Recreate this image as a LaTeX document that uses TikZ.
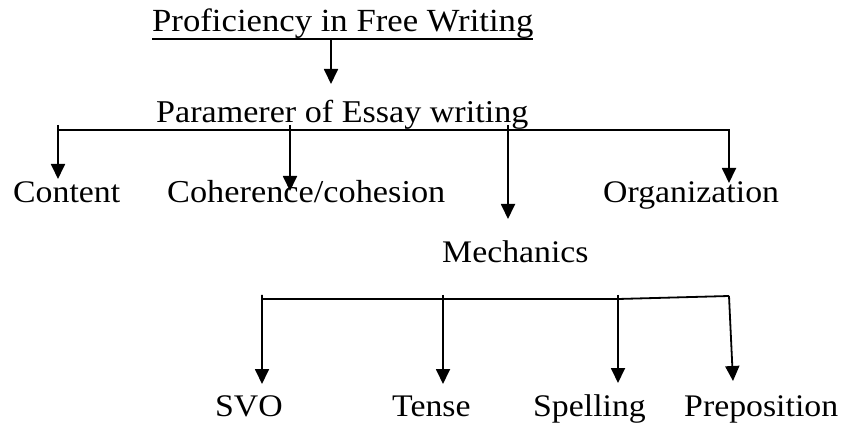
\documentclass[tikz,border=0pt]{standalone}
\usepackage{fontspec}
\setmainfont{Liberation Serif}
\usetikzlibrary{arrows.meta}
\newcommand{\vsq}[1]{\scalebox{1}[0.93]{#1}}
\begin{document}
\begin{tikzpicture}[x=1pt,y=-1pt,
  lbl/.style={anchor=base west,inner sep=0pt,font=\fontsize{33.8}{36}\selectfont},
  conn/.style={line width=1.8pt},
  arr/.style={conn,-{Triangle[length=15pt,width=14pt]}}]
\useasboundingbox (0,0) rectangle (846,430);
% texts
\node[lbl,font=\fontsize{34.7}{36}\selectfont] (title) at (152,32) {\vsq{Proficiency in Free Writing}};
\node[lbl,font=\fontsize{34.1}{36}\selectfont] (param) at (156,123) {\vsq{Paramerer of Essay writing}};
\node[lbl] (content) at (13,203) {\vsq{Content}};
\node[lbl,font=\fontsize{34.3}{36}\selectfont] (coh) at (167,203) {\vsq{Coherence/cohesion}};
\node[lbl] (org) at (603,203) {\vsq{Organization}};
\node[lbl] (mech) at (442,263) {\vsq{Mechanics}};
\node[lbl] (svo) at (215,416) {\vsq{SVO}};
\node[lbl] (tense) at (392,416) {\vsq{Tense}};
\node[lbl] (spell) at (533,416) {\vsq{Spelling}};
\node[lbl] (prep) at (684,416) {\vsq{Preposition}};
% underline of title
\coordinate (ulL) at (152,39);
\coordinate (ulR) at (533,39);
\draw[conn] (ulL) -- (ulR);
% top arrow
\coordinate (a0) at (331,39);
\draw[arr] (a0) -- (331,84);
% upper bar
\coordinate (b1) at (58,130);
\coordinate (b2) at (729,130);
\draw[conn] (58,125) -- (b1) -- (b2) -- (729,131);
\draw[arr] (b1) -- (58,179);
\draw[arr] (290,125) -- (290,191);
\draw[arr] (508,125) -- (508,219);
\draw[arr] (b2) -- (729,183);
% lower bar
\coordinate (c1) at (262,299);
\coordinate (c3) at (618,299);
\coordinate (c4) at (729,296);
\draw[conn] (262,295) -- (c1) -- (c3) -- (c4);
\draw[arr] (c1) -- (262,384);
\draw[arr] (443,295) -- (443,384);
\draw[arr] (618,295) -- (618,383);
\draw[arr] (c4) -- (733,381);
\end{tikzpicture}
\end{document}
